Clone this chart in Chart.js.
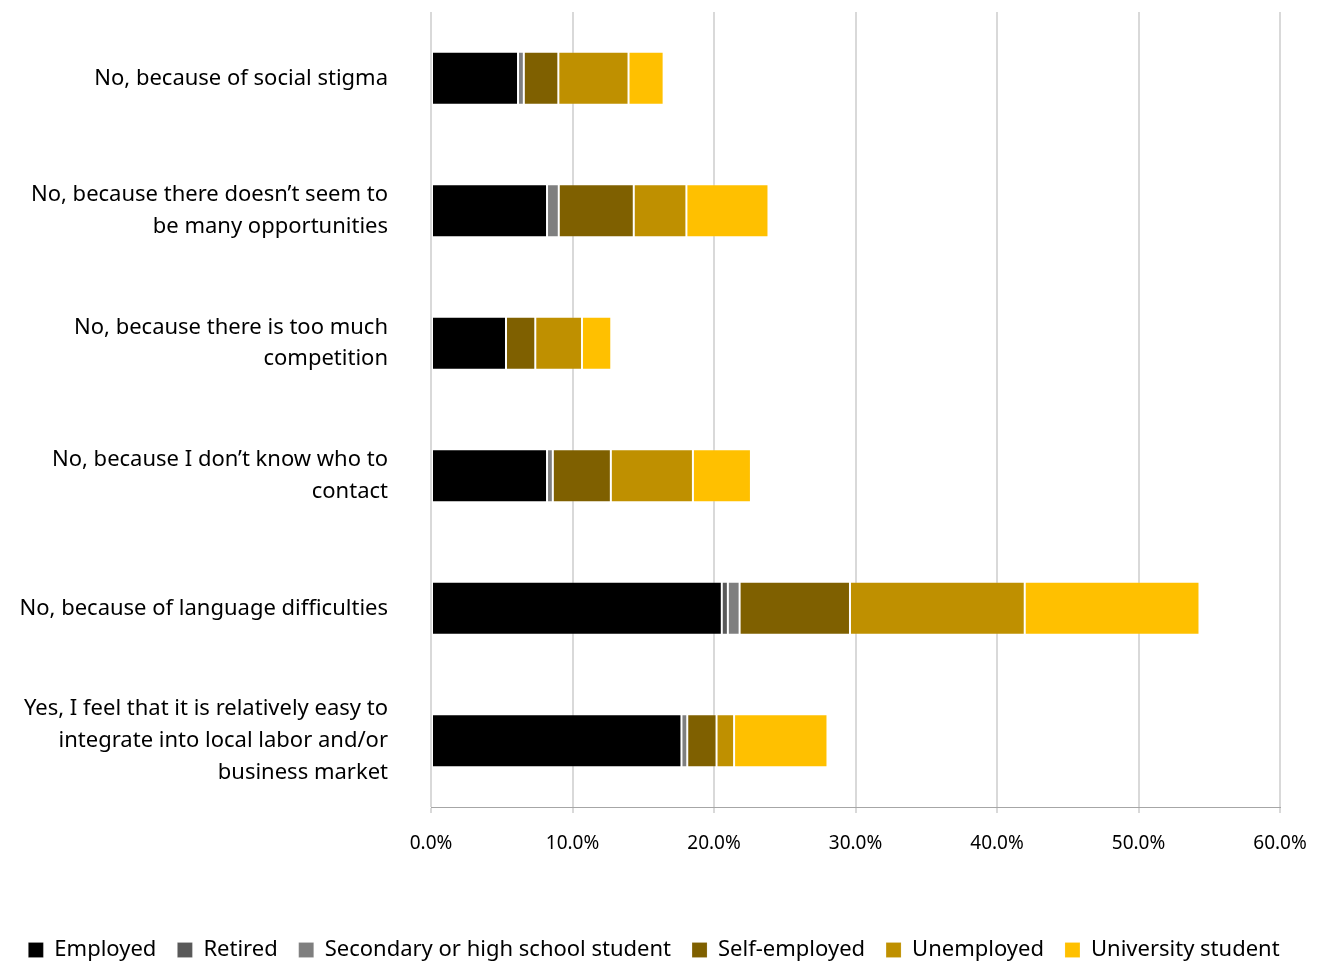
<!DOCTYPE html>
<html>
<head>
<meta charset="utf-8">
<script src="https://cdn.jsdelivr.net/npm/chart.js@4.4.0/dist/chart.umd.min.js"></script>
<style>
  html, body { margin: 0; padding: 0; background: #fff; }
  #wrap { width: 1324px; height: 962px; }
</style>
</head>
<body>
<div id="wrap"><canvas id="myChart" width="1324" height="962"></canvas></div>
<script>
// categories (one per bar, split into lines as in the original)
const categories = [
    ['No, because of social stigma'],
    ['No, because there doesn\u2019t seem to', 'be many opportunities'],
    ['No, because there is too much', 'competition'],
    ['No, because I don\u2019t know who to', 'contact'],
    ['No, because of language difficulties'],
    ['Yes, I feel that it is relatively easy to', 'integrate into local labor and/or', 'business market']
];

// share of respondents (%) per group
const employed   = [6.15, 8.2, 5.3, 8.2, 20.55, 17.7];
const retired    = [0, 0, 0, 0, 0.43, 0];
const secondary  = [0.41, 0.83, 0, 0.41, 0.83, 0.41];
const selfEmp    = [2.44, 5.3, 2.07, 4.1, 7.8, 2.07];
const unemployed = [4.96, 3.72, 3.3, 5.8, 12.35, 1.24];
const university = [2.48, 5.8, 2.07, 4.1, 12.35, 6.6];

const seriesNames = ['Employed', 'Retired', 'Secondary or high school student', 'Self-employed', 'Unemployed', 'University student'];
const seriesColors = ['#000000', '#595959', '#7f7f7f', '#7f6000', '#bf9000', '#ffc000'];
const seriesData = [employed, retired, secondary, selfEmp, unemployed, university];

// x axis ticks
const xMax = 60;
const xStep = 10;

const fontFamily = '"Noto Sans", sans-serif';

const ctx = document.getElementById('myChart').getContext('2d');

new Chart(ctx, {
    type: 'bar',
    data: {
        labels: categories,
        datasets: seriesNames.map((name, i) => ({
            label: name,
            data: seriesData[i],
            backgroundColor: seriesColors[i],
            borderColor: 'rgba(255,255,255,0.15)',
            borderWidth: 1,
            borderSkipped: false,
            barPercentage: 0.4,
            categoryPercentage: 1.0
        }))
    },
    options: {
        indexAxis: 'y',
        responsive: false,
        animation: false,
        layout: { padding: { top: 12, right: 16, bottom: -9, left: 0 } },
        scales: {
            x: {
                stacked: true,
                min: 0,
                max: xMax,
                afterFit: scale => {
                    scale.height = 111;
                    scale.paddingRight = 44;
                },
                ticks: {
                    stepSize: xStep,
                    color: '#000',
                    padding: 19,
                    font: { family: fontFamily, size: 19 },
                    callback: v => v.toFixed(1) + '%'
                },
                grid: { color: '#d9d9d9', lineWidth: 2, tickLength: 6 },
                border: { display: true, color: '#a6a6a6', width: 1 }
            },
            y: {
                stacked: true,
                afterFit: scale => {
                    scale.width = 431;
                    scale.paddingTop = 0;
                    scale.paddingBottom = 0;
                },
                ticks: {
                    color: '#000',
                    padding: 35,
                    font: { family: fontFamily, size: 22, lineHeight: 1.45 }
                },
                grid: { display: false },
                border: { display: false }
            }
        },
        plugins: {
            legend: {
                position: 'bottom',
                labels: {
                    color: '#000',
                    boxWidth: 15,
                    boxHeight: 15,
                    padding: 21,
                    font: { family: fontFamily, size: 22 }
                }
            },
            tooltip: { enabled: false }
        }
    }
});
</script>
</body>
</html>
